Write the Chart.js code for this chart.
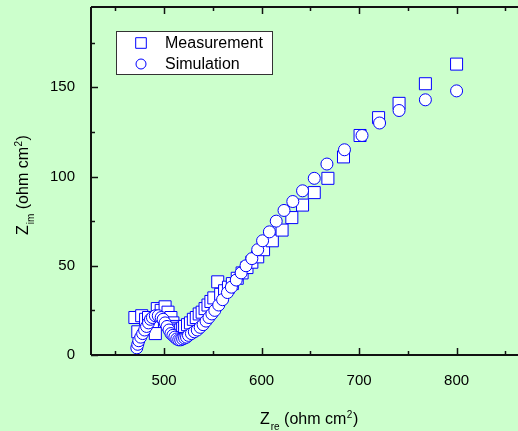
<!DOCTYPE html>
<html>
<head>
<meta charset="utf-8">
<script src="https://cdn.jsdelivr.net/npm/chart.js@4.4.0/dist/chart.umd.min.js"></script>
<style>
  html, body { margin: 0; padding: 0; background: #ccffcc; }
</style>
</head>
<body>
<canvas id="nyquist" width="518" height="431"></canvas>
<script>
// measured impedance (squares), high frequency first
const measZre = [470, 473, 477, 481, 484, 488, 491, 493, 497, 501, 504, 507, 509, 511, 513, 515, 517, 519, 521, 524,
                 527, 530, 533, 536, 539, 542, 545, 548, 551, 555, 558, 562, 566, 570, 575, 580, 585, 590, 596, 602,
                 611, 621, 631, 642, 654, 668, 684, 701, 720, 741, 768, 800];
const measZim = [21, 13, 22, 20, 21, 17, 12, 26, 25, 27, 24, 21, 18, 16, 15, 14, 14, 15, 16, 17,
                 18, 20, 21, 23, 24, 26, 28, 30, 32, 41, 34, 36, 38, 40, 43, 46, 49, 52, 55, 59,
                 64, 70, 77, 84, 91, 99, 111, 123, 133, 141, 152, 163];
// fitted model (circles)
const simZre = [472, 473, 474, 476, 478, 480, 482, 484, 486, 488, 491, 494, 497, 499, 501, 503, 505, 507, 509, 511,
                513, 515, 517, 519, 521, 523, 525, 528, 531, 534, 537, 540, 543, 546, 549, 552, 556, 560, 565, 569,
                574, 579, 584, 590, 596, 601, 608, 615, 623, 632, 642, 654, 667, 685, 703, 721, 741, 768, 800];
const simZim = [4, 6, 8, 10, 12, 14, 16, 18, 20, 21, 22, 22, 21, 20, 18, 16, 14, 12, 11, 10,
                9, 8.5, 8.5, 9, 9.5, 10, 11, 12, 13, 14, 15.5, 17, 19, 21, 23, 25, 28, 31, 35, 38,
                42, 46, 50, 54, 59, 64, 69, 75, 81, 86, 92, 99, 107, 115, 123, 130, 137, 143, 148];

const seriesLabels = ['Measurement', 'Simulation'];
const xTickValues = [500, 600, 700, 800];
const xMinorTicks = [450, 550, 650, 750, 850];
const yTickValues = [0, 50, 100, 150];
const yMinorTicks = [25, 75, 125, 175];

const FONT = "Arial, 'Liberation Sans', sans-serif";
const BLUE = '#0000ff';

function toPoints(xs, ys) {
    return xs.map((x, i) => ({ x: x, y: ys[i] }));
}

// label like Z_re (ohm cm^2), drawn piece by piece
function drawAxisTitle(ctx, sub, x, y, angle) {
    ctx.save();
    ctx.translate(x, y);
    ctx.rotate(angle);
    ctx.fillStyle = '#000';
    ctx.textBaseline = 'alphabetic';
    ctx.textAlign = 'left';
    let cx = 0;
    ctx.font = '16px ' + FONT;
    ctx.fillText('Z', cx, 0);
    cx += ctx.measureText('Z').width + 1;
    ctx.font = '10px ' + FONT;
    ctx.fillText(sub, cx, 6);
    cx += ctx.measureText(sub).width;
    ctx.font = '16px ' + FONT;
    ctx.fillText(' (ohm cm', cx, 0);
    cx += ctx.measureText(' (ohm cm').width + 0.5;
    ctx.font = '10px ' + FONT;
    ctx.fillText('2', cx, -6);
    cx += ctx.measureText('2').width + 0.5;
    ctx.font = '16px ' + FONT;
    ctx.fillText(')', cx, 0);
    ctx.restore();
}

const frame = {
    id: 'frame',
    beforeDraw(chart) {
        const c = chart.ctx;
        c.save();
        c.fillStyle = '#ccffcc';
        c.fillRect(0, 0, chart.width, chart.height);
        c.restore();
    },
    afterDatasetsDraw(chart) {
        const c = chart.ctx;
        const a = chart.chartArea;
        const xs = chart.scales.x, ys = chart.scales.y;
        c.save();
        c.strokeStyle = '#111';
        c.lineWidth = 2;
        c.beginPath();
        c.moveTo(a.left, a.top); c.lineTo(a.right, a.top);
        c.moveTo(a.left, a.top); c.lineTo(a.left, a.bottom);
        c.moveTo(a.left, a.bottom); c.lineTo(a.right, a.bottom);
        c.stroke();

        c.lineWidth = 1.5;
        c.beginPath();
        const tickX = (v, len) => {
            const px = Math.round(xs.getPixelForValue(v)) + 0.5;
            c.moveTo(px, a.bottom); c.lineTo(px, a.bottom - len);
            c.moveTo(px, a.top); c.lineTo(px, a.top + len);
        };
        const tickY = (v, len) => {
            const py = Math.round(ys.getPixelForValue(v)) + 0.5;
            c.moveTo(a.left, py); c.lineTo(a.left + len, py);
        };
        xTickValues.forEach(v => tickX(v, 7));
        xMinorTicks.forEach(v => tickX(v, 4));
        yTickValues.forEach(v => tickY(v, 7));
        yMinorTicks.forEach(v => tickY(v, 4));
        c.stroke();

        // legend
        c.fillStyle = '#fff';
        c.fillRect(116, 31, 157, 43);
        c.strokeStyle = '#333';
        c.lineWidth = 1;
        c.strokeRect(116.5, 31.5, 156, 43);
        const styles = ['rect', 'circle'];
        const radii = [7.5, 5];
        c.font = '16px ' + FONT;
        c.textBaseline = 'middle';
        c.textAlign = 'left';
        seriesLabels.forEach((lab, i) => {
            const y = 43 + i * 21;
            c.strokeStyle = BLUE;
            c.fillStyle = '#fff';
            Chart.helpers.drawPoint(c, { pointStyle: styles[i], radius: radii[i], borderWidth: 1 }, 141, y);
            c.fillStyle = '#000';
            c.fillText(lab, 165, y + 1);
        });
        c.restore();

        drawAxisTitle(c, 're', 260, 424, 0);
        drawAxisTitle(c, 'im', 28, 235, -Math.PI / 2);
    }
};

new Chart('nyquist', {
    type: 'scatter',
    data: {
        datasets: [
            {
                label: seriesLabels[0],
                data: toPoints(measZre, measZim),
                pointStyle: 'rect',
                pointRadius: 8.5,
                pointBorderWidth: 1,
                pointBorderColor: BLUE,
                pointBackgroundColor: '#ffffff',
                order: 1
            },
            {
                label: seriesLabels[1],
                data: toPoints(simZre, simZim),
                pointStyle: 'circle',
                pointRadius: 6,
                pointBorderWidth: 1,
                pointBorderColor: BLUE,
                pointBackgroundColor: '#ffffff',
                order: 0
            }
        ]
    },
    options: {
        responsive: false,
        animation: false,
        devicePixelRatio: 1,
        layout: { autoPadding: false, padding: { top: 7, right: 0, left: 0, bottom: 0 } },
        plugins: {
            legend: { display: false },
            tooltip: { enabled: false }
        },
        scales: {
            x: {
                type: 'linear',
                min: 425,
                max: 863,
                grid: { display: false },
                border: { display: false },
                afterFit(s) { s.height = 76; s.paddingLeft = 0; s.paddingRight = 0; },
                afterBuildTicks(s) { s.ticks = xTickValues.map(v => ({ value: v })); },
                ticks: { padding: 9, color: '#000', font: { family: FONT, size: 15 } }
            },
            y: {
                type: 'linear',
                min: 0,
                max: 195,
                grid: { display: false },
                border: { display: false },
                afterFit(s) { s.width = 91; s.paddingTop = 0; s.paddingBottom = 0; },
                afterBuildTicks(s) { s.ticks = yTickValues.map(v => ({ value: v })); },
                ticks: { padding: 8, color: '#000', font: { family: FONT, size: 15 } }
            }
        }
    },
    plugins: [frame]
});
</script>
</body>
</html>
